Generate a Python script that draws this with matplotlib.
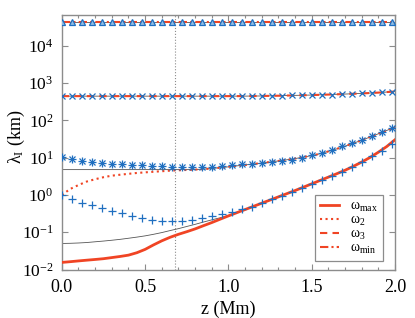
import matplotlib.pyplot as plt
import numpy as np

plt.rcParams['font.family'] = 'serif'
plt.rcParams['font.serif'] = ['Liberation Serif', 'DejaVu Serif']
plt.rcParams['mathtext.fontset'] = 'custom'
plt.rcParams['mathtext.rm'] = 'Liberation Serif'
plt.rcParams['mathtext.it'] = 'Liberation Serif:italic'
plt.rcParams['mathtext.bf'] = 'Liberation Serif:bold'

# height grid for the curves (Mm)
z_line = np.array([0.00, 0.05, 0.10, 0.15, 0.20, 0.25, 0.30, 0.35, 0.40, 0.45,
                   0.50, 0.55, 0.60, 0.65, 0.70, 0.75, 0.80, 0.85, 0.90, 0.95,
                   1.00, 1.05, 1.10, 1.15, 1.20, 1.25, 1.30, 1.35, 1.40, 1.45,
                   1.50, 1.55, 1.60, 1.65, 1.70, 1.75, 1.80, 1.85, 1.90, 1.95, 2.00])
z_coarse = np.array([0.0, 0.1, 0.2, 0.3, 0.4, 0.5, 0.6, 0.7, 0.8, 0.9, 1.0,
                     1.1, 1.2, 1.3, 1.4, 1.5, 1.6, 1.7, 1.8, 1.9, 2.0])
# heights of the blue markers
z_mark = np.array([0.00, 0.06, 0.12, 0.18, 0.24, 0.30, 0.36, 0.42, 0.48, 0.54,
                   0.60, 0.66, 0.72, 0.78, 0.84, 0.90, 0.96, 1.02, 1.08, 1.14,
                   1.20, 1.26, 1.32, 1.38, 1.44, 1.50, 1.56, 1.62, 1.68, 1.74,
                   1.80, 1.86, 1.92, 1.98])

w_max = np.array([0.0155, 0.0162, 0.0170, 0.0178, 0.0186, 0.0195, 0.0209, 0.0224, 0.0243, 0.0282,
                  0.0347, 0.0457, 0.0589, 0.0733, 0.0881, 0.1035, 0.123, 0.150, 0.182, 0.224,
                  0.275, 0.335, 0.407, 0.495, 0.603, 0.733, 0.891, 1.084, 1.318, 1.622,
                  1.995, 2.455, 3.02, 3.72, 4.62, 5.89, 7.67, 10.2, 14.1, 20.0, 30.5])
w_2 = np.array([1.0, 1.45, 1.85, 2.3, 2.65, 3.0, 3.3, 3.5, 3.7, 3.9,
                4.05, 4.2, 4.35, 4.5, 4.6, 4.7, 4.8, 4.95, 5.15, 5.4,
                5.7, 6.05, 6.4, 6.8, 7.2, 7.7, 8.2, 8.8, 9.5, 10.4,
                11.4, 12.8, 14.8, 17.3, 20.5, 24.5, 29.5, 36.0, 44.0, 54.0, 66.0])
w_3 = np.array([450, 450, 450, 450, 450, 450, 450, 450, 450, 450, 450,
                451, 455, 462, 472, 482, 496, 512, 532, 560, 600])
w_min = np.array([44700, 44700, 44700, 44700, 44700, 44700, 44700, 44700, 44700, 44700, 44700,
                  44700, 44700, 44700, 44700, 44700, 44700, 44700, 44700, 44700, 44700])

# thin grey reference curves
ref_low = np.array([0.050, 0.0505, 0.0515, 0.053, 0.0555, 0.058, 0.061, 0.0645, 0.069, 0.074,
                    0.080, 0.088, 0.098, 0.111, 0.125, 0.143, 0.163, 0.188, 0.215, 0.245,
                    0.283, 0.336, 0.407, 0.495, 0.603, 0.733, 0.891, 1.084, 1.318, 1.622,
                    1.995, 2.455, 3.02, 3.72, 4.62, 5.89, 7.67, 10.2, 14.1, 20.0, 30.5])
ref_mid = np.array([4.8, 4.8, 4.8, 4.8, 4.8, 4.8, 4.8, 4.8, 4.8, 4.8,
                    4.8, 4.8, 4.8, 4.8, 4.8, 4.8, 4.8, 4.95, 5.15, 5.4,
                    5.7, 6.05, 6.4, 6.8, 7.2, 7.7, 8.2, 8.8, 9.5, 10.4,
                    11.4, 12.8, 14.8, 17.3, 20.5, 24.5, 29.5, 36.0, 44.0, 54.0, 66.0])

# blue marker series
m_tri = np.array([44700] * 34)
m_x = np.array([450, 450, 450, 450, 450, 450, 450, 450, 450, 450,
                450, 450, 450, 450, 450, 450, 450, 450, 450, 450,
                455, 459, 464, 470, 476, 482, 490, 498, 507, 517,
                532, 545, 565, 590])
m_star = np.array([10.6, 9.3, 8.3, 7.7, 7.3, 6.9, 6.6, 6.4, 6.2, 6.0,
                   5.9, 5.8, 5.7, 5.7, 5.7, 5.8, 6.1, 6.4, 6.7, 7.0,
                   7.3, 7.7, 8.1, 8.8, 9.9, 11.5, 13.8, 16.6, 20.5, 25.0,
                   30.5, 38.0, 48.0, 62.0])
m_plus = np.array([1.0, 0.76, 0.62, 0.53, 0.44, 0.37, 0.32, 0.27, 0.24, 0.215,
                   0.205, 0.20, 0.205, 0.215, 0.235, 0.27, 0.31, 0.36, 0.42, 0.49,
                   0.60, 0.76, 0.96, 1.22, 1.56, 2.0, 2.56, 3.28, 4.24, 5.6,
                   7.67, 10.9, 15.5, 24.0])

red = '#f04424'
blue = '#1f6fc0'
grey = '#8c8c8c'

fig = plt.figure(figsize=(4.15, 3.18), dpi=100)
ax = fig.add_axes([0.149, 0.1525, 0.803, 0.8005])

ax.axvline(0.68, color=grey, ls=':', lw=0.8, zorder=1)

ax.plot(z_line, ref_low, color='#555555', lw=0.6, zorder=2)
ax.plot(z_line, ref_mid, color='#555555', lw=0.6, zorder=2)
ax.plot(z_coarse, w_3, color='#555555', lw=0.6, zorder=2)
ax.plot(z_coarse, w_min, color='#555555', lw=0.6, zorder=2)

ax.plot(z_line, w_max, color=red, lw=2.0, ls='-', label=r'ω$_\mathrm{max}$', zorder=3)
ax.plot(z_line, w_2, color=red, lw=1.5, ls=':', label=r'ω$_2$', zorder=3)
ax.plot(z_coarse, w_3, color=red, lw=1.5, ls=(0, (3.5, 2.5)), label=r'ω$_3$', zorder=3)
ax.plot(z_coarse, w_min, color=red, lw=1.5, ls=(0, (4, 1.5, 1, 1.5)), label=r'ω$_\mathrm{min}$', zorder=3)

ax.plot(z_mark, m_tri, ls='none', marker='^', ms=5, mfc='#8fbbe3', mec=blue, mew=0.9, zorder=4)
ax.plot(z_mark, m_x, ls='none', marker='x', ms=5, mec=blue, mew=0.9, zorder=4)
ax.plot(z_mark, m_star, ls='none', marker='x', ms=5, mec=blue, mew=0.9, zorder=4)
ax.plot(z_mark, m_star, ls='none', marker='+', ms=6, mec=blue, mew=0.9, zorder=4)
ax.plot(z_mark, m_plus, ls='none', marker='+', ms=6, mec=blue, mew=0.9, zorder=4)

ax.set_yscale('log')
ax.set_xlim(0, 2.0)
ax.set_ylim(0.01, 6.8e4)
ax.set_xticks([0.0, 0.5, 1.0, 1.5, 2.0])
ax.set_xticks(np.arange(0, 2.01, 0.1), minor=True)
ax.set_xticklabels(['0.0', '0.5', '1.0', '1.5', '2.0'])
ax.set_yticks([1e-2, 1e-1, 1e0, 1e1, 1e2, 1e3, 1e4])
ax.set_yticklabels([r'10$^{-2}$', r'10$^{-1}$', r'10$^{0}$', r'10$^{1}$',
                    r'10$^{2}$', r'10$^{3}$', r'10$^{4}$'])
ax.yaxis.set_minor_locator(plt.NullLocator())

ax.tick_params(which='both', direction='in', top=True, right=True, color=grey, labelsize=13)
ax.tick_params(axis='y', labelsize=12.5, pad=6)
ax.tick_params(which='major', length=4.5, width=0.8)
ax.tick_params(which='minor', length=2.5, width=0.8)
ax.tick_params(axis='x', pad=7)
for sp in ax.spines.values():
    sp.set_color(grey)
    sp.set_linewidth(1.0)

ax.set_xlabel('z (Mm)', fontsize=13, labelpad=3)
ax.set_ylabel(r'λ$_\mathrm{I}$ (km)', fontsize=13)
ax.yaxis.set_label_coords(-0.105, 0.52)

leg = ax.legend(loc='lower right', bbox_to_anchor=(0.964, 0.033), fontsize=10,
                frameon=True, fancybox=False, edgecolor=grey, framealpha=1,
                labelspacing=0.0, handlelength=1.4, handletextpad=0.8,
                borderpad=0.35, borderaxespad=0)
leg.get_frame().set_linewidth(0.9)

fig.savefig('out.png', dpi=100)
